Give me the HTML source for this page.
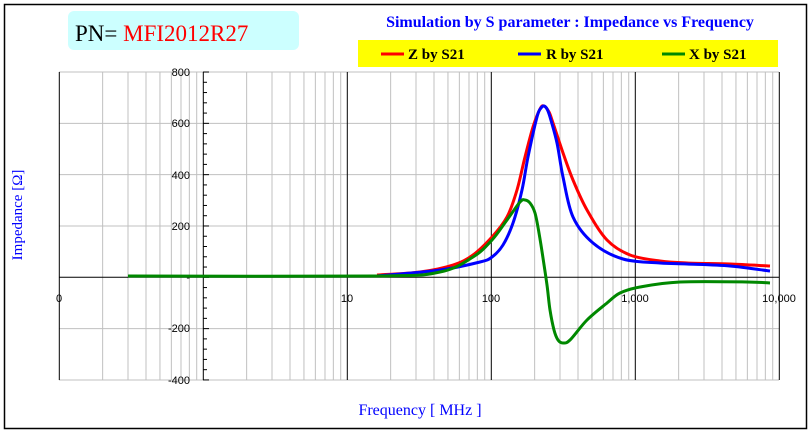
<!DOCTYPE html>
<html><head><meta charset="utf-8"><style>
body{margin:0;background:#fff;}
svg{display:block;}
</style></head><body>
<svg id="s" width="811" height="432" xmlns="http://www.w3.org/2000/svg" font-family="Liberation Serif, serif">
<rect x="4.5" y="4.5" width="802" height="424" fill="#fff" stroke="#000" stroke-width="1.5"/>
<rect x="68" y="11" width="231" height="39" rx="6" fill="#ccffff"/>
<text x="75" y="41" font-size="23" fill="#000">PN= <tspan fill="#f00">MFI2012R27</tspan></text>
<text x="570" y="27" font-size="16" font-weight="bold" fill="#00f" text-anchor="middle">Simulation by S parameter : Impedance vs Frequency</text>
<rect x="358" y="40" width="420" height="27" fill="#ffff00"/>
<g font-size="15" font-weight="bold" fill="#000">
<line x1="381" y1="54" x2="404" y2="54" stroke="#f00" stroke-width="3"/><text x="408" y="59">Z by S21</text>
<line x1="518" y1="54" x2="541" y2="54" stroke="#00f" stroke-width="3"/><text x="546" y="59">R by S21</text>
<line x1="662" y1="54" x2="685" y2="54" stroke="#080" stroke-width="3"/><text x="689" y="59">X by S21</text>
</g>
<g id="grid"></g>
<g font-family="Liberation Sans, sans-serif" font-size="11" fill="#000" text-anchor="end">
<text x="190" y="76">800</text><text x="190" y="127">600</text><text x="190" y="179">400</text><text x="190" y="230">200</text><text x="190" y="281">-</text><text x="190" y="332">-200</text><text x="190" y="384">-400</text>
</g>
<g font-family="Liberation Sans, sans-serif" font-size="11" fill="#000" text-anchor="middle">
<text x="59" y="302">0</text><text x="347" y="302">10</text><text x="491" y="302">100</text><text x="635" y="302">1,000</text><text x="779" y="302">10,000</text>
</g>
<text x="420" y="415" font-size="16" fill="#00f" text-anchor="middle">Frequency [ MHz ]</text>
<text transform="translate(22,215) rotate(-90)" font-size="15" fill="#00f" text-anchor="middle">Impedance [Ω]</text>
<g id="curves" fill="none" stroke-width="3" stroke-linejoin="round"></g>
</svg>
<script>
var g=document.getElementById('grid'),h='';
function X(f){return 59.3+144*(Math.log10(f)+1);}
function Y(v){return 277.3-v*0.2566;}
for(var d=-1;d<4;d++)for(var k=2;k<10;k++){var x=X(k*Math.pow(10,d));h+='<line x1="'+x+'" y1="72" x2="'+x+'" y2="380" stroke="#c0c0c0"/>';}
for(var v=-400;v<=800;v+=200){if(v==0)continue;h+='<line x1="59" y1="'+Y(v)+'" x2="779" y2="'+Y(v)+'" stroke="#c0c0c0"/>';}
[0.1,10,100,1000,10000].forEach(function(f){var x=X(f);h+='<line x1="'+x+'" y1="72" x2="'+x+'" y2="380" stroke="#000"/>';});
h+='<line x1="203.3" y1="72" x2="203.3" y2="380" stroke="#000"/>';
for(var v=-400;v<=800;v+=40){h+='<line x1="203" y1="'+Y(v)+'" x2="'+(v%200==0?209:207)+'" y2="'+Y(v)+'" stroke="#000"/>';}
h+='<line x1="59" y1="277.3" x2="779" y2="277.3" stroke="#000"/>';
g.innerHTML=h;
function smooth(p){var d='M'+p[0][0]+','+p[0][1];for(var i=0;i<p.length-1;i++){var a=p[i-1]||p[i],b=p[i],c=p[i+1],e=p[i+2]||c;
d+=' C'+(b[0]+(c[0]-a[0])/6).toFixed(1)+','+(b[1]+(c[1]-a[1])/6).toFixed(1)+' '+(c[0]-(e[0]-b[0])/6).toFixed(1)+','+(c[1]-(e[1]-b[1])/6).toFixed(1)+' '+c[0]+','+c[1];}return d;}
var S=[["#f00",[[377,275],[420,272],[453,265],[473,255],[492,237],[507,217],[517,190],[525,157],[533,127],[540,109],[544,106],[549,112],[553,123],[562,150],[573,180],[587,210],[607,240],[630,255],[660,261],[687,263],[730,264],[770,266]]],
["#00f",[[377,276],[440,270],[480,262],[492,257],[503,245],[513,223],[522,190],[528,157],[537,117],[541,108],[544,106],[547,109],[550,117],[557,143],[563,177],[573,217],[593,243],[623,259],[660,263],[687,264],[730,266],[770,271]]],
["#080",[[128,276],[377,276],[440,272],[473,257],[492,240],[507,220],[520,202],[525,200],[530,203],[535,213],[539,233],[543,258],[547,285],[550,310],[554,330],[558,340],[563,343],[570,340],[587,320],[607,303],[620,293],[640,287],[680,282],[747,282],[770,283]]]];
var c='';S.forEach(function(s){c+='<path stroke="'+s[0]+'" d="'+smooth(s[1])+'"/>';});
document.getElementById('curves').innerHTML=c;
</script>
</body></html>
